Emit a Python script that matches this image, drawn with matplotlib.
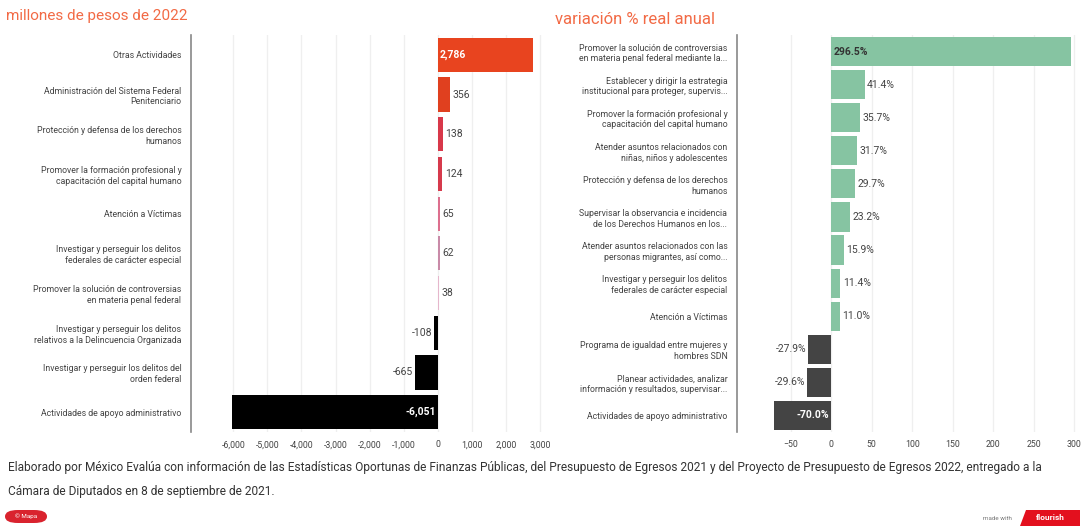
import matplotlib
matplotlib.use('Agg')
import matplotlib.pyplot as plt
from matplotlib.patches import FancyBboxPatch, Polygon

plt.rcParams['font.family'] = ['Roboto', 'DejaVu Sans']

# left chart: millones de pesos de 2022
left_cats = ['Otras Actividades',
             'Administración del Sistema Federal\nPenitenciario',
             'Protección y defensa de los derechos\nhumanos',
             'Promover la formación profesional y\ncapacitación del capital humano',
             'Atención a Víctimas',
             'Investigar y perseguir los delitos\nfederales de carácter especial',
             'Promover la solución de controversias\nen materia penal federal',
             'Investigar y perseguir los delitos\nrelativos a la Delincuencia Organizada',
             'Investigar y perseguir los delitos del\norden federal',
             'Actividades de apoyo administrativo']
left_vals = [2786, 356, 138, 124, 65, 62, 38, -108, -665, -6051]
left_ticks = [-6000, -5000, -4000, -3000, -2000, -1000, 0, 1000, 2000, 3000]

# right chart: variación % real anual
right_cats = ['Promover la solución de controversias\nen materia penal federal mediante la...',
              'Establecer y dirigir la estrategia\ninstitucional para proteger, supervis...',
              'Promover la formación profesional y\ncapacitación del capital humano',
              'Atender asuntos relacionados con\nniñas, niños y adolescentes',
              'Protección y defensa de los derechos\nhumanos',
              'Supervisar la observancia e incidencia\nde los Derechos Humanos en los...',
              'Atender asuntos relacionados con las\npersonas migrantes, así como...',
              'Investigar y perseguir los delitos\nfederales de carácter especial',
              'Atención a Víctimas',
              'Programa de igualdad entre mujeres y\nhombres SDN',
              'Planear actividades, analizar\ninformación y resultados, supervisar...',
              'Actividades de apoyo administrativo']
right_vals = [296.5, 41.4, 35.7, 31.7, 29.7, 23.2, 15.9, 11.4, 11.0, -27.9, -29.6, -70.0]
right_ticks = [-50, 0, 50, 100, 150, 200, 250, 300]

title_col = '#f26a45'
left_pos_cols = ['#e8441f', '#e0401f', '#d8384a', '#d63a4c', '#dd6f8e', '#c98aa8', '#e6b6cc']
grid_col = '#efefef'
txt_col = '#444444'

W, H = 1082, 531
fig = plt.figure(figsize=(W / 100, H / 100), dpi=100)
fig.patch.set_facecolor('white')


def fx(px):
    return px / W


def fy(py):
    return 1 - py / H


def setup(ax, ticks, labels):
    for s in ['top', 'right', 'bottom']:
        ax.spines[s].set_visible(False)
    ax.spines['left'].set_color('#888888')
    ax.spines['left'].set_linewidth(1.2)
    ax.set_yticks(range(len(labels)))
    ax.set_yticklabels(labels, fontsize=6.3, color=txt_col, linespacing=1.25)
    ax.tick_params(axis='y', length=0, pad=7)
    ax.set_xticks(ticks)
    ax.tick_params(axis='x', length=0, labelsize=6.3, labelcolor=txt_col, pad=6)
    ax.grid(axis='x', color=grid_col, linewidth=0.9)
    ax.set_axisbelow(True)


# ---- left
axl = fig.add_axes([fx(191), fy(432), fx(545 - 191), fy(35) - fy(432)])
n = len(left_vals)
colors = []
k = 0
for v in left_vals:
    if v >= 0:
        colors.append(left_pos_cols[k])
        k += 1
    else:
        colors.append('#000000')
axl.barh(range(n), left_vals, height=0.86, color=colors)
axl.set_xlim(-7240, 3140)
setup(axl, left_ticks, left_cats)
axl.set_ylim(n - 0.5, -0.5)
axl.set_xticklabels([f'{t:,}' for t in left_ticks])
for i, v in enumerate(left_vals):
    lab = f'{v:,}'
    if v > 2000:
        axl.text(60, i, lab, ha='left', va='center', color='white', fontsize=7.5, fontweight='bold')
    elif v < -2000:
        axl.text(-60, i, lab, ha='right', va='center', color='white', fontsize=7.5, fontweight='bold')
    elif v >= 0:
        axl.text(v + 80, i, lab, ha='left', va='center', color=txt_col, fontsize=7.5)
    else:
        axl.text(v - 60, i, lab, ha='right', va='center', color=txt_col, fontsize=7.5)

# ---- right
axr = fig.add_axes([fx(737), fy(432), fx(1080 - 737), fy(35) - fy(432)])
m = len(right_vals)
rcols = ['#86c4a2' if v >= 0 else '#444444' for v in right_vals]
axr.barh(range(m), right_vals, height=0.88, color=rcols)
axr.set_xlim(-116, 307)
setup(axr, right_ticks, right_cats)
axr.set_ylim(m - 0.5, -0.5)
for i, v in enumerate(right_vals):
    lab = f'{v:.1f}%'
    if v > 100:
        axr.text(3, i, lab, ha='left', va='center', color='#333333', fontsize=7.5, fontweight='bold')
    elif v < -50:
        axr.text(-2, i, lab, ha='right', va='center', color='white', fontsize=7.5, fontweight='bold')
    elif v >= 0:
        axr.text(v + 3, i, lab, ha='left', va='center', color=txt_col, fontsize=7.5)
    else:
        axr.text(v - 2, i, lab, ha='right', va='center', color=txt_col, fontsize=7.5)

# titles
fig.text(fx(6), fy(16), 'millones de pesos de 2022', color=title_col, fontsize=11,
         va='center', ha='left')
fig.text(fx(555), fy(19), 'variación % real anual', color=title_col, fontsize=12,
         va='center', ha='left')

# footer
fig.text(fx(8), fy(468), 'Elaborado por México Evalúa con información de las Estadísticas Oportunas de '
         'Finanzas Públicas, del Presupuesto de Egresos 2021 y del Proyecto de Presupuesto de '
         'Egresos 2022, entregado a la', fontsize=8.6, color='#333333', va='center', ha='left')
fig.text(fx(8), fy(491), 'Cámara de Diputados en 8 de septiembre de 2021.', fontsize=8.6,
         color='#333333', va='center', ha='left')

# badges
fig.patches.append(FancyBboxPatch((fx(5), fy(523)), fx(42), fy(510) - fy(523),
                                  boxstyle='round,pad=0,rounding_size=0.012',
                                  transform=fig.transFigure, facecolor='#d9232e',
                                  edgecolor='none'))
fig.text(fx(26), fy(516.5), '© Mapa', color='white', fontsize=4.5, ha='center', va='center')
fig.text(fx(1012), fy(518), 'made with', color='#777777', fontsize=4.5, ha='right', va='center')
fig.patches.append(Polygon([(fx(1020), fy(526)), (fx(1026), fy(510)), (fx(1080), fy(510)),
                            (fx(1080), fy(526))], closed=True, transform=fig.transFigure,
                           facecolor='#e3101e', edgecolor='none'))
fig.text(fx(1050), fy(518), 'flourish', color='white', fontsize=6, ha='center', va='center',
         fontweight='bold')

fig.savefig('out.png', dpi=100)
